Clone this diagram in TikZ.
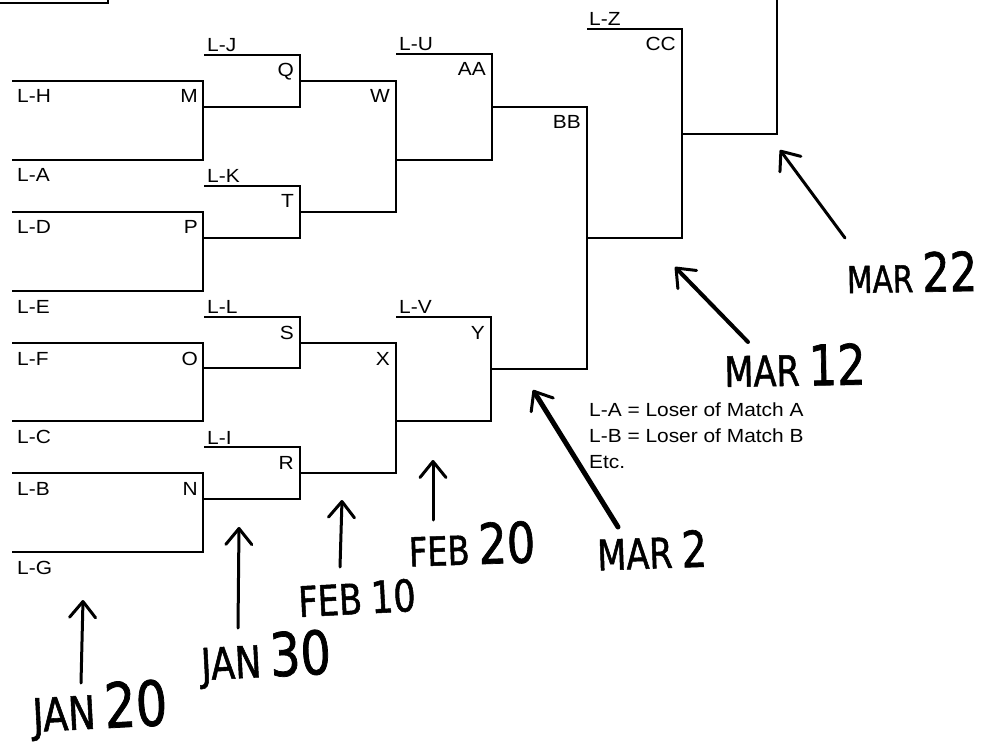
\documentclass[tikz,border=0pt]{standalone}
\usepackage{fontspec}
\setmainfont[FakeStretch=1.1]{Liberation Sans}
\newfontfamily\hand[FakeStretch=0.8,FakeBold=1.2]{DejaVu Sans}
\usetikzlibrary{arrows.meta}
\newcommand\datetxt[4]{{\fontsize{#3}{#3}\selectfont #1}\hspace{9pt}{\fontsize{#4}{#4}\selectfont #2}}
\tikzset{
  br/.style={line width=1.4pt, line join=miter},
  lbl/.style={font=\fontsize{19}{19}\selectfont, inner sep=0pt},
  lft/.style={lbl, anchor=base west},
  rgt/.style={lbl, anchor=base east},
  hw/.style={font=\hand, inner sep=0pt},
  harr/.style={line width=3pt, line cap=round, line join=round,
    -{Straight Barb[length=16pt,width=26pt,line width=3pt,round]}},
}
\begin{document}
\begin{tikzpicture}[x=1pt,y=-1pt]
\useasboundingbox (0,0) rectangle (996,751);
% top-left fragment
\draw[br] (0,3) -- (108,3) -- (108,0);
% round 1
\draw[br] (12,81) -- (203,81) -- (203,160) -- (12,160);
\draw[br] (12,212) -- (203,212) -- (203,291) -- (12,291);
\draw[br] (12,343) -- (203,343) -- (203,421) -- (12,421);
\draw[br] (12,473) -- (203,473) -- (203,552) -- (12,552);
% round 2
\draw[br] (204,55) -- (300,55) -- (300,107) -- (203,107);
\draw[br] (204,186) -- (300,186) -- (300,238) -- (203,238);
\draw[br] (204,317) -- (300,317) -- (300,368) -- (203,368);
\draw[br] (204,447) -- (300,447) -- (300,499) -- (203,499);
% round 3
\draw[br] (300,81) -- (396,81) -- (396,212) -- (300,212);
\draw[br] (300,343) -- (396,343) -- (396,473) -- (300,473);
% round 4
\draw[br] (396,54) -- (492,54) -- (492,160) -- (396,160);
\draw[br] (396,317) -- (491,317) -- (491,421) -- (396,421);
% round 5
\draw[br] (492,107) -- (587,107) -- (587,369) -- (491,369);
% round 6
\draw[br] (587,29) -- (682,29) -- (682,238) -- (587,238);
% final
\draw[br] (682,134) -- (777,134) -- (777,0);

% first-round entrant labels
\node[lft] (lh) at (17,103) {L-H};
\node[lft] (la) at (17,182) {L-A};
\node[lft] (ld) at (17,234) {L-D};
\node[lft] (le) at (17,313) {L-E};
\node[lft] (lf) at (17,365) {L-F};
\node[lft] (lc) at (17,443) {L-C};
\node[lft] (lb) at (17,495) {L-B};
\node[lft] (lg) at (17,574) {L-G};
% upper entrant labels
\node[lft] (lj) at (207,52) {L-J};
\node[lft] (lk) at (207,183) {L-K};
\node[lft] (ll) at (207,314) {L-L};
\node[lft] (li) at (207,444) {L-I};
\node[lft] (lu) at (399,51) {L-U};
\node[lft] (lv) at (399,314) {L-V};
\node[lft] (lz) at (589,26) {L-Z};
% match letters
\node[rgt] (m) at (198,103) {M};
\node[rgt] (p) at (198,234) {P};
\node[rgt] (o) at (198,365) {O};
\node[rgt] (n) at (198,495) {N};
\node[rgt] (q) at (294,77) {Q};
\node[rgt] (t) at (294,208) {T};
\node[rgt] (s) at (294,339) {S};
\node[rgt] (r) at (294,469) {R};
\node[rgt] (w) at (390,103) {W};
\node[rgt] (x) at (390,365) {X};
\node[rgt] (aa) at (486,76) {AA};
\node[rgt] (y) at (485,339) {Y};
\node[rgt] (bb) at (581,129) {BB};
\node[rgt] (cc) at (676,51) {CC};
% legend
\node[lft] (leg1) at (589,416) {L-A = Loser of Match A};
\node[lft] (leg2) at (589,442) {L-B = Loser of Match B};
\node[lft] (leg3) at (589,468) {Etc.};

% handwritten dates
\node[hw, rotate=3] (d1) at (100,710) {\datetxt{JAN}{20}{46}{62}};
\node[hw, rotate=3] (d2) at (266,659) {\datetxt{JAN}{30}{44}{60}};
\node[hw, rotate=3] (d3) at (357,598) {\datetxt{FEB}{10}{42}{44}};
\node[hw, rotate=2] (d4) at (472,544) {\datetxt{FEB}{20}{40}{56}};
\node[hw, rotate=2] (d5) at (652,550) {\datetxt{MAR}{2}{42}{50}};
\node[hw, rotate=1] (d6) at (795,365) {\datetxt{MAR}{12}{42}{56}};
\node[hw, rotate=1] (d7) at (912,272) {\datetxt{MAR}{22}{37}{54}};

\coordinate (t1) at (83,600);  \coordinate (s1) at (81,683);
\coordinate (t2) at (239,527); \coordinate (s2) at (238,628);
\coordinate (t3) at (342,500); \coordinate (s3) at (340,567);
\coordinate (t4) at (433,460); \coordinate (s4) at (433,520);
\coordinate (t5) at (533,390); \coordinate (s5) at (618,527);
\coordinate (t6) at (675,267); \coordinate (s6) at (748,342);
\coordinate (t7) at (780,150); \coordinate (s7) at (845,238);
\draw[harr] (s1) -- (t1);
\draw[harr] (s2) -- (t2);
\draw[harr] (s3) -- (t3);
\draw[harr] (s4) -- (t4);
\draw[harr, line width=5pt] (s5) -- (t5);
\draw[harr, line width=4pt] (s6) -- (t6);
\draw[harr] (s7) -- (t7);
\end{tikzpicture}
\end{document}
